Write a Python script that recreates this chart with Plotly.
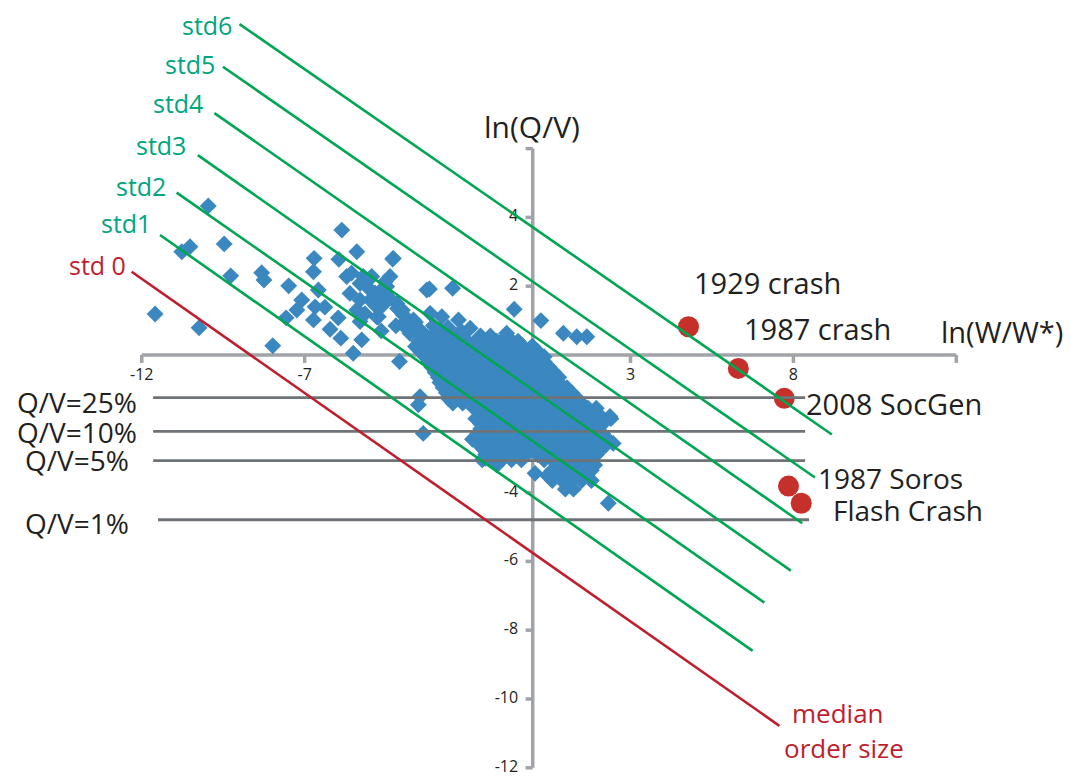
import plotly.graph_objects as go

# ---------------- data ----------------
# scattered (sparse) observations: ln(W/W*), ln(Q/V)
sparse_x = [-9.96, -10.52, -10.77, -9.47, -9.27, -11.59, -10.24, -8.32, -8.25, -7.98,
            -7.49, -7.09, -7.24, -7.57, -6.71, -6.73, -6.58, -6.68, -6.38, -6.73,
            -6.22, -5.97, -5.89, -5.86, -5.95, -5.40, -5.71, -5.56, -5.20, -5.30,
            -4.99, -5.61, -5.30, -4.99, -4.74, -4.79, -5.40, -5.30, -4.74, -4.28,
            -4.38, -4.48, -4.17, -3.97, -3.97, -3.66, -3.77, -3.46, -3.31, -3.25,
            -5.25, -5.51, -4.09, -4.53, -4.59, -3.17, -2.46, -0.57, 0.25, -4.94,
            -4.84, -4.78, -3.15, -2.79, -2.28, -1.92, -3.25, -2.85, -2.54, -1.62,
            -0.80, -0.60, -0.03, 0.94, 1.35, 1.66, -3.46, -3.51, -3.36, -1.46,
            0.07, 2.32, 2.37, 2.47, -4.30, -4.60, -4.20, -4.00, -5.05, -4.45,
            -3.90, -3.60, -4.15, -5.15, -4.65, -3.05, -2.60, -2.20]
sparse_y = [4.33, 3.15, 3.00, 3.23, 2.30, 1.19, 0.79, 2.39, 2.18, 0.27,
            2.01, 1.60, 1.31, 1.08, 2.81, 2.42, 1.89, 1.40, 1.39, 1.02,
            0.75, 1.08, 0.49, 3.63, 2.78, 3.00, 2.28, 2.38, 2.28, 2.08,
            2.23, 1.79, 1.60, 1.60, 1.69, 1.40, 1.31, 0.97, 1.11, 2.81,
            2.28, 1.99, 1.50, 1.16, 0.92, 1.02, 0.63, 0.73, 0.53, 1.89,
            0.44, 0.05, -0.19, 2.13, 1.94, 1.92, 1.94, 1.33, 1.00, 2.28,
            1.80, 1.10, 1.21, 1.11, 1.02, 0.78, 0.53, 0.73, 0.53, 0.53,
            0.63, 0.34, 0.24, 0.63, 0.53, 0.53, -1.21, -1.45, -2.28, -3.00,
            -3.44, -4.31, -1.79, -2.57, 2.79, 1.45, 0.85, 1.30, 1.95, 1.70,
            0.80, 0.95, 1.35, 1.20, 0.70, 0.85, 0.80, 0.70]

# dense core of the cloud, row by row (ln(Q/V) level -> ln(W/W*) values)
core_rows = {
    0.55: [-3.4, -3.1, -2.8, -2.5, -2.2, -1.6, -1.3, -0.8],
    0.40: [-3.5, -3.2, -2.9, -2.6, -2.3, -2.0, -1.7, -1.4, -1.1, -0.75, -0.45],
    0.25: [-3.6, -3.3, -3.0, -2.7, -2.4, -2.1, -1.8, -1.5, -1.2, -0.9, -0.6, -0.3, 0.0],
    0.10: [-3.45, -3.15, -2.85, -2.55, -2.25, -1.95, -1.65, -1.35, -1.05, -0.75, -0.45, -0.15, 0.15],
    -0.05: [-3.3, -3.05, -2.8, -2.55, -2.25, -1.95, -1.65, -1.35, -1.05, -0.75, -0.45, -0.15, 0.15, 0.35],
    -0.20: [-3.2, -2.95, -2.65, -2.35, -2.05, -1.75, -1.45, -1.15, -0.85, -0.55, -0.25, 0.05, 0.35],
    -0.35: [-3.1, -2.8, -2.5, -2.2, -1.9, -1.6, -1.3, -1.0, -0.7, -0.4, -0.1, 0.2, 0.5],
    -0.50: [-3.0, -2.65, -2.35, -2.05, -1.75, -1.45, -1.15, -0.85, -0.55, -0.25, 0.05, 0.35, 0.65],
    -0.65: [-2.9, -2.65, -2.35, -2.05, -1.75, -1.45, -1.15, -0.85, -0.55, -0.25, 0.05, 0.35, 0.65, 0.8],
    -0.80: [-2.85, -2.5, -2.2, -1.9, -1.6, -1.3, -1.0, -0.7, -0.4, -0.1, 0.2, 0.5, 0.8],
    -0.95: [-2.75, -2.5, -2.2, -1.9, -1.6, -1.3, -1.0, -0.7, -0.4, -0.1, 0.2, 0.5, 0.8, 1.05],
    -1.10: [-2.65, -2.35, -2.05, -1.75, -1.45, -1.15, -0.85, -0.55, -0.25, 0.05, 0.35, 0.65, 0.95, 1.2],
    -1.25: [-2.6, -2.3, -1.95, -1.65, -1.35, -1.05, -0.75, -0.45, -0.15, 0.15, 0.45, 0.75, 1.05, 1.35],
    -1.40: [-2.45, -2.15, -1.5, -1.2, -0.9, -0.6, -0.3, 0.0, 0.3, 0.6, 0.9, 1.2, 1.5],
    -1.55: [-1.8, -1.55, -1.3, -1.0, -0.7, -0.4, -0.1, 0.2, 0.5, 0.8, 1.1, 1.4, 1.7, 1.95],
    -1.70: [-1.6, -1.3, -1.0, -0.7, -0.4, -0.1, 0.2, 0.5, 0.8, 1.1, 1.4, 1.7, 2.0],
    -1.85: [-1.75, -1.45, -1.15, -0.85, -0.55, -0.25, 0.05, 0.35, 0.65, 0.95, 1.25, 1.55, 1.85, 2.1, 2.4],
    -2.00: [-1.6, -1.45, -1.15, -0.85, -0.55, -0.25, 0.05, 0.35, 0.65, 0.95, 1.25, 1.55, 1.85, 2.15],
    -2.15: [-1.6, -1.3, -1.0, -0.7, -0.4, -0.1, 0.2, 0.5, 0.8, 1.1, 1.4, 1.7, 2.0],
    -2.30: [-1.7, -1.45, -1.15, -0.85, -0.55, -0.25, 0.05, 0.35, 0.65, 0.95, 1.25, 1.55, 1.85, 2.15],
    -2.45: [-1.85, -1.55, -1.25, -0.95, -0.65, -0.35, -0.05, 0.25, 0.55, 0.85, 1.15, 1.45, 1.75, 2.05, 2.3],
    -2.60: [-1.65, -1.35, -1.05, -0.75, -0.45, -0.15, 0.15, 0.45, 0.75, 1.05, 1.35, 1.65, 1.95, 2.25],
    -2.75: [-1.5, -1.2, -0.9, -0.6, -0.3, 0.0, 0.3, 0.6, 0.9, 1.2, 1.5, 1.8, 2.1],
    -2.90: [-1.45, -1.15, -0.85, -0.5, -0.2, 0.15, 0.45, 0.75, 1.05, 1.35, 1.65, 1.95],
    -3.05: [-1.55, -1.25, -0.95, -0.65, -0.35, 0.35, 0.6, 0.9, 1.2, 1.5, 1.8],
    -3.20: [-1.1, 0.75, 1.05, 1.35, 1.65, 1.9],
    -3.35: [0.6, 0.9, 1.2, 1.5, 1.8],
    -3.50: [0.45, 0.75, 1.05, 1.35, 1.65],
    -3.65: [0.6, 0.9, 1.2, 1.5, 1.8],
    -3.90: [1.0, 1.25],
}

# extreme events
event_names = ["1929 crash", "1987 crash", "2008 SocGen", "1987 Soros", "Flash Crash"]
event_x = [4.78, 6.31, 7.72, 7.85, 8.24]
event_y = [0.82, -0.39, -1.26, -3.81, -4.31]

# invariance lines (std 0 = median order size, std1..std6)
std_names = ["std 0", "std1", "std2", "std3", "std4", "std5", "std6"]
std_x0 = [-12.31, -11.44, -10.93, -10.28, -9.77, -9.51, -9.00]
std_y0 = [2.42, 3.49, 4.72, 5.81, 7.03, 8.38, 9.62]
std_x1 = [7.57, 6.75, 7.11, 7.92, 8.27, 8.66, 9.18]
std_y1 = [-10.78, -8.60, -7.20, -6.27, -4.89, -3.56, -2.31]

# Q/V reference levels
qv_labels = ["Q/V=25%", "Q/V=10%", "Q/V=5%", "Q/V=1%"]
qv_y = [-1.24, -2.22, -3.07, -4.79]
qv_x0 = [-11.65, -11.65, -11.65, -11.50]
qv_x1 = [8.36, 8.36, 8.36, 8.48]

# axes
x_ticks = [-12, -7, -2, 3, 8, 13]
x_ticklabels = ["-12", "-7", "-2", "3", "8", ""]
y_ticks = [6, 4, 2, 0, -2, -4, -6, -8, -10, -12]
y_ticklabels = ["", "4", "2", "0", "-2", "-4", "-6", "-8", "-10", "-12"]

# ---------------- styles ----------------
FONT = "Open Sans"
AX_COL = "#a0a4a9"
HL_COL = "#6f7377"
GREEN = "#00a651"
TEAL = "#00a57c"
RED_LINE = "#be1e2d"
RED_DOT = "#c6302b"
BLUE = "#3b87c0"
INK = "#231f20"

XT_LEN = 0.23   # tick length in data units (x ticks, downwards)
YT_LEN = 0.22   # tick length in data units (y ticks, leftwards)

fig = go.Figure()

# axis lines + ticks
ax_x, ax_y = [min(x_ticks), max(x_ticks), None], [0, 0, None]
for t in x_ticks:
    ax_x += [t, t, None]
    ax_y += [0, -XT_LEN, None]
ax_x += [0, 0, None]
ax_y += [min(y_ticks), max(y_ticks), None]
for t in y_ticks:
    ax_x += [0, -YT_LEN, None]
    ax_y += [t, t, None]
fig.add_trace(go.Scatter(x=ax_x, y=ax_y, mode="lines", line=dict(color=AX_COL, width=3.5),
                         hoverinfo="skip", showlegend=False))

# tick labels (beneath the data markers)
fig.add_trace(go.Scatter(x=x_ticks, y=[-0.61] * len(x_ticks), mode="text", text=x_ticklabels,
                         textposition="middle center", textfont=dict(family=FONT, size=16, color=INK),
                         hoverinfo="skip", showlegend=False))
fig.add_trace(go.Scatter(x=[-0.45] * len(y_ticks), y=y_ticks, mode="text", text=y_ticklabels,
                         textposition="middle left", textfont=dict(family=FONT, size=16, color=INK),
                         hoverinfo="skip", showlegend=False))

# observations
obs_x = list(sparse_x)
obs_y = list(sparse_y)
for yv, xs in core_rows.items():
    obs_x += xs
    obs_y += [yv] * len(xs)
fig.add_trace(go.Scatter(x=obs_x, y=obs_y, mode="markers",
                         marker=dict(symbol="diamond", size=13, color=BLUE, line=dict(width=0)),
                         showlegend=False))

# extreme events
fig.add_trace(go.Scatter(x=event_x, y=event_y, mode="markers",
                         marker=dict(symbol="circle", size=21, color=RED_DOT, line=dict(width=0)),
                         showlegend=False))

# Q/V horizontal reference lines
for i in range(len(qv_y)):
    fig.add_trace(go.Scatter(x=[qv_x0[i], qv_x1[i]], y=[qv_y[i], qv_y[i]], mode="lines",
                             line=dict(color=HL_COL, width=2.8), hoverinfo="skip", showlegend=False))

# std lines
for i in range(len(std_names)):
    col = RED_LINE if i == 0 else GREEN
    fig.add_trace(go.Scatter(x=[std_x0[i], std_x1[i]], y=[std_y0[i], std_y1[i]], mode="lines",
                             line=dict(color=col, width=2.6), hoverinfo="skip", showlegend=False))

# ---------------- annotations ----------------
ann = []
def add(text, x, y, size, color=INK, xanchor="left"):
    ann.append(dict(text=text, x=x, y=y, xref="x", yref="y", showarrow=False,
                    xanchor=xanchor, yanchor="middle", borderpad=0,
                    font=dict(family=FONT, size=size, color=color)))

add("ln(Q/V)", -0.03, 6.64, 30, xanchor="center")
add("ln(W/W*)", 14.39, 0.68, 29, xanchor="center")

ev_pos = [(4.93, 2.10), (6.45, 0.78), (8.36, -1.40), (8.73, -3.58), (9.19, -4.50)]
ev_size = [29, 29, 29, 28, 28]
for name, (px, py), s in zip(event_names, ev_pos, ev_size):
    add(name, px, py, s)

qv_pos = [(-14.0, -1.38), (-14.0, -2.25), (-14.0, -3.05), (-14.0, -4.88)]
for lab, (px, py) in zip(qv_labels, qv_pos):
    add(lab, px, py, 28, xanchor="center")

std_pos = [(-12.45, 2.62), (-11.68, 3.84), (-11.22, 4.91), (-10.61, 6.10),
           (-10.08, 7.33), (-9.72, 8.46), (-9.19, 9.58)]
for i, (lab, (px, py)) in enumerate(zip(std_names, std_pos)):
    add(lab, px, py, 25, color=RED_LINE if i == 0 else TEAL, xanchor="right")

add("median", 9.36, -10.40, 26, color=RED_LINE, xanchor="center")
add("order size", 9.54, -11.42, 26, color=RED_LINE, xanchor="center")

# the page body adds an 8px margin; size the figure so the data scale lands
# where the reference puts it inside the 1071x780 window
fig.update_layout(
    width=1063, height=772,
    margin=dict(l=0, r=0, t=0, b=0),
    paper_bgcolor="white", plot_bgcolor="white",
    xaxis=dict(range=[-16.105, 16.52], visible=False, fixedrange=True),
    yaxis=dict(range=[-12.355, 10.087], visible=False, fixedrange=True),
    annotations=ann,
    showlegend=False,
)

fig.write_html("out.html")
